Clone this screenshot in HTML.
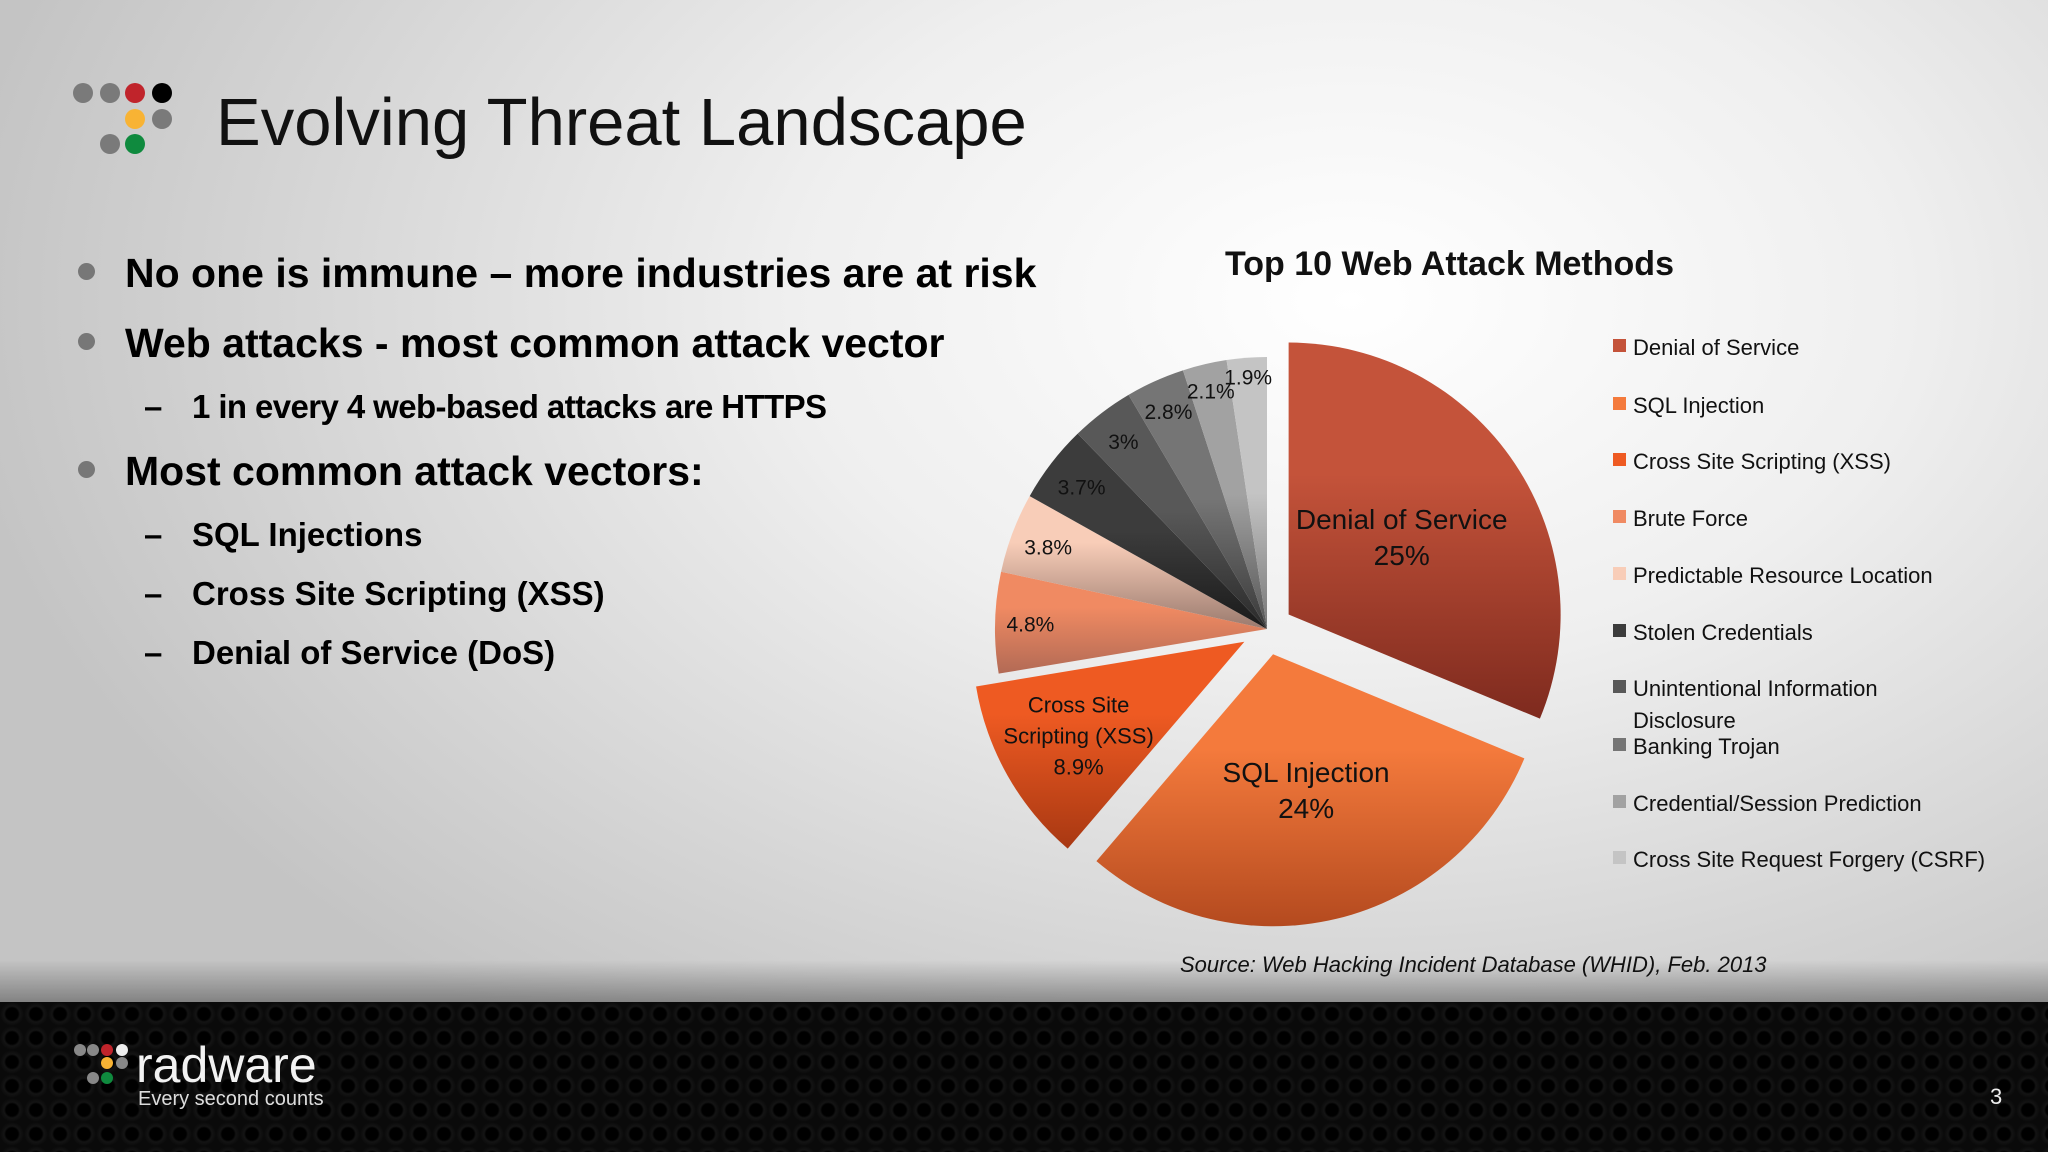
<!DOCTYPE html>
<html><head><meta charset="utf-8"><style>
html,body{margin:0;padding:0}
body{width:2048px;height:1152px;position:relative;overflow:hidden;font-family:"Liberation Sans",sans-serif;
background:radial-gradient(ellipse 1400px 900px at 1350px 300px,#ffffff 0%,#efefef 40%,#d2d2d2 80%,#c4c4c4 100%);}
.t{position:absolute;white-space:nowrap;color:#000}
.b{font-weight:bold;font-size:41px}
.s{font-weight:bold;font-size:33px}
.dot{position:absolute;border-radius:50%}
#footer{position:absolute;left:0;top:1002px;width:2048px;height:150px;background:#050505;
background-image:radial-gradient(circle at 12px 12px,#000 6px,#141414 8px,#0a0a0a 12px);background-size:24px 24px}
#shade{position:absolute;left:0;top:960px;width:2048px;height:42px;background:linear-gradient(#00000000,#00000055)}
</style></head><body>
<div>
<div class="dot" style="left:73px;top:83px;width:20px;height:20px;background:#7a7a7a"></div>
<div class="dot" style="left:100px;top:83px;width:20px;height:20px;background:#7a7a7a"></div>
<div class="dot" style="left:125px;top:83px;width:20px;height:20px;background:#c0242b"></div>
<div class="dot" style="left:152px;top:83px;width:20px;height:20px;background:#000"></div>
<div class="dot" style="left:125px;top:109px;width:20px;height:20px;background:#f8b334"></div>
<div class="dot" style="left:152px;top:109px;width:20px;height:20px;background:#7a7a7a"></div>
<div class="dot" style="left:100px;top:134px;width:20px;height:20px;background:#7a7a7a"></div>
<div class="dot" style="left:125px;top:134px;width:20px;height:20px;background:#0f8a3e"></div>
</div>
<div class="t" style="left:216px;top:84px;font-size:67px;color:#111">Evolving Threat Landscape</div>

<div>
<div class="dot" style="left:78px;top:263px;width:17px;height:17px;background:#777"></div>
<div class="t b" style="left:125px;top:250px">No one is immune – more industries are at risk</div>
<div class="dot" style="left:78px;top:333px;width:17px;height:17px;background:#777"></div>
<div class="t b" style="left:125px;top:320px">Web attacks - most common attack vector</div>
<div class="t s" style="left:144px;top:388px">–</div><div class="t s" style="left:192px;top:388px;letter-spacing:-0.6px">1 in every 4 web-based attacks are HTTPS</div>
<div class="dot" style="left:78px;top:461px;width:17px;height:17px;background:#777"></div>
<div class="t b" style="left:125px;top:448px">Most common attack vectors:</div>
<div class="t s" style="left:144px;top:516px">–</div><div class="t s" style="left:192px;top:516px">SQL Injections</div>
<div class="t s" style="left:144px;top:575px">–</div><div class="t s" style="left:192px;top:575px">Cross Site Scripting (XSS)</div>
<div class="t s" style="left:144px;top:634px">–</div><div class="t s" style="left:192px;top:634px">Denial of Service (DoS)</div>
</div>

<div class="t" style="left:1225px;top:245px;font-size:34px;font-weight:bold;color:#111">Top 10 Web Attack Methods</div>

<svg id="chart" width="2048" height="1152" style="position:absolute;left:0;top:0">
<defs id="defs"></defs>
<g id="slices"></g><g id="labels"></g><g id="legend"></g>
</svg>

<div class="t" style="left:1180px;top:952px;font-size:22px;font-style:italic;color:#111">Source: Web Hacking Incident Database (WHID), Feb. 2013</div>

<div id="shade"></div>
<div id="footer"></div>
<div>
<div class="dot" style="left:74px;top:1044px;width:12px;height:12px;background:#888"></div>
<div class="dot" style="left:87px;top:1044px;width:12px;height:12px;background:#888"></div>
<div class="dot" style="left:101px;top:1044px;width:12px;height:12px;background:#c0242b"></div>
<div class="dot" style="left:116px;top:1044px;width:12px;height:12px;background:#eee"></div>
<div class="dot" style="left:101px;top:1057px;width:12px;height:12px;background:#f8b334"></div>
<div class="dot" style="left:116px;top:1057px;width:12px;height:12px;background:#888"></div>
<div class="dot" style="left:87px;top:1072px;width:12px;height:12px;background:#888"></div>
<div class="dot" style="left:101px;top:1072px;width:12px;height:12px;background:#0f8a3e"></div>
<div class="t" style="left:136px;top:1036px;font-size:50px;color:#f2f2f2">radware</div>
<div class="t" style="left:138px;top:1088px;font-size:20px;color:#ddd">Every second counts</div>
</div>
<div class="t" style="left:1990px;top:1084px;font-size:22px;color:#eee">3</div>

<script>
const categories=["Denial of Service","SQL Injection","Cross Site Scripting (XSS)","Brute Force","Predictable Resource Location","Stolen Credentials","Unintentional Information Disclosure","Banking Trojan","Credential/Session Prediction","Cross Site Request Forgery (CSRF)"];
const values=[25,24,8.9,4.8,3.8,3.7,3,2.8,2.1,1.9];
const valueLabels=["25%","24%","8.9%","4.8%","3.8%","3.7%","3%","2.8%","2.1%","1.9%"];
const colorsLight=["#c4533a","#f47a3c","#ee5a22","#f08a62","#f8cdb8","#3c3c3c","#585858","#757575","#a2a2a2","#c4c4c4"];
const colorsDark=["#7e2a1e","#b44a1f","#a83812","#b26a55","#9a7a6e","#1a1a1a","#2a2a2a","#3a3a3a","#555","#777"];
const exploded=[1,1,1,0,0,0,0,0,0,0];
const NS="http://www.w3.org/2000/svg";
const cx=1267,cy=629,R=272,EX=26;
const labelR=[0.5,0.52,0.7,0.87,0.86,0.86,0.87,0.88,0.9,0.93];
const total=values.reduce((a,b)=>a+b,0);
const pt=(a,r,ox,oy)=>[ox+r*Math.sin(a),oy-r*Math.cos(a)];
let acc=0;
const defs=document.getElementById('defs');
values.forEach((v,i)=>{
  const a0=acc/total*2*Math.PI; acc+=v; const a1=acc/total*2*Math.PI; const am=(a0+a1)/2;
  const ox=cx+(exploded[i]?EX*Math.sin(am):0), oy=cy-(exploded[i]?EX*Math.cos(am):0);
  const g=document.createElementNS(NS,'linearGradient');
  g.setAttribute('id','g'+i);g.setAttribute('x1','0');g.setAttribute('y1','0');g.setAttribute('x2','0');g.setAttribute('y2','1');
  g.innerHTML=i<5?`<stop offset="0" stop-color="${colorsLight[i]}"/><stop offset="0.35" stop-color="${colorsLight[i]}"/><stop offset="1" stop-color="${colorsDark[i]}"/>`
    :`<stop offset="0" stop-color="${colorsLight[i]}"/><stop offset="0.5" stop-color="${colorsLight[i]}"/><stop offset="1" stop-color="${colorsDark[i]}"/>`;
  defs.appendChild(g);
  const p0=pt(a0,R,ox,oy),p1=pt(a1,R,ox,oy);
  const path=document.createElementNS(NS,'path');
  path.setAttribute('d',`M${ox},${oy}L${p0[0]},${p0[1]}A${R},${R} 0 ${a1-a0>Math.PI?1:0} 1 ${p1[0]},${p1[1]}Z`);
  path.setAttribute('fill','url(#g'+i+')');
  
  
  document.getElementById('slices').appendChild(path);
  const lp=pt(am,R*labelR[i],ox,oy);
  const t=document.createElementNS(NS,'text');
  t.setAttribute('x',lp[0]);t.setAttribute('y',lp[1]);
  t.setAttribute('text-anchor','middle');
  t.setAttribute('font-family','Liberation Sans, sans-serif');
  t.setAttribute('font-size',i<2?28:(i==2?22:21));
  t.setAttribute('fill','#111');
  
  
  let lines=i==0?["Denial of Service",valueLabels[i]]:i==1?["SQL Injection",valueLabels[i]]:i==2?["Cross Site","Scripting (XSS)",valueLabels[i]]:[valueLabels[i]];
  const lh=i<2?36:31;
  lines.forEach((s,k)=>{const ts=document.createElementNS(NS,'tspan');ts.setAttribute('x',lp[0]);ts.setAttribute('y',lp[1]+(k-(lines.length-1)/2)*lh+8);ts.textContent=s;t.appendChild(ts);});
  document.getElementById('labels').appendChild(t);
});
const legendY=[347,405,461,518,575,632,688,746,803,859];
categories.forEach((c,i)=>{
  const lg=document.getElementById('legend');
  const r=document.createElementNS(NS,'rect');
  r.setAttribute('x',1613);r.setAttribute('y',legendY[i]-8);r.setAttribute('width',13);r.setAttribute('height',13);
  r.setAttribute('fill',colorsLight[i]);
  
  
  lg.appendChild(r);
  const t=document.createElementNS(NS,'text');
  t.setAttribute('x',1633);t.setAttribute('y',legendY[i]+8);
  t.setAttribute('font-family','Liberation Sans, sans-serif');t.setAttribute('font-size',22);t.setAttribute('fill','#111');
  
  
  if(i==6){t.innerHTML='<tspan x="1633">Unintentional Information</tspan><tspan x="1633" dy="32">Disclosure</tspan>';}
  else t.textContent=c;
  lg.appendChild(t);
});
</script>
</body></html>
